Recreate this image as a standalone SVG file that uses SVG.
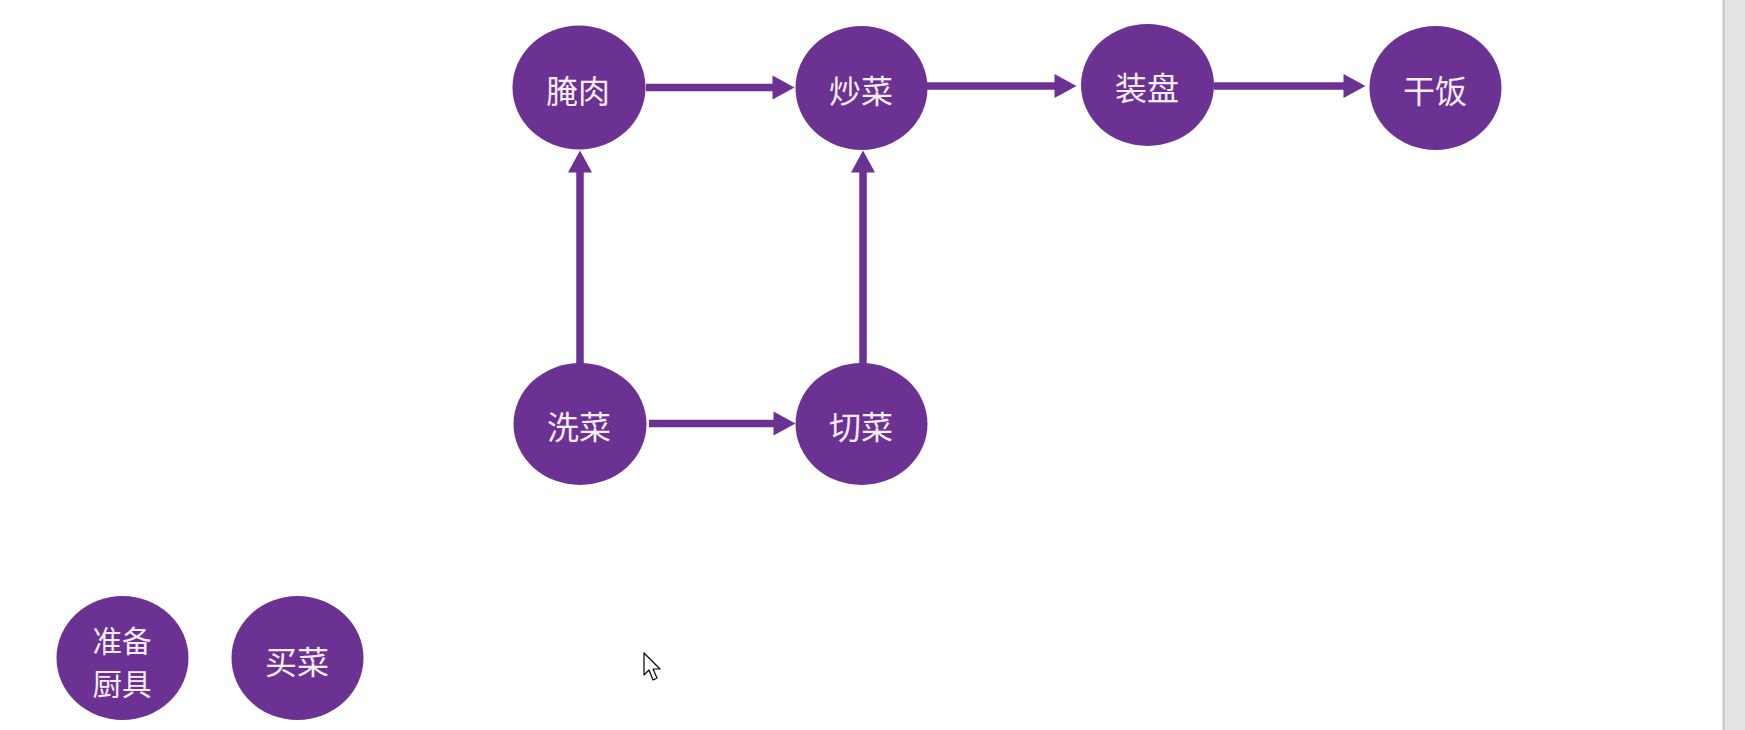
<svg xmlns="http://www.w3.org/2000/svg" width="1745" height="730" viewBox="0 0 1745 730">
<style>
.n ellipse{fill:#6b3193}
.n text{fill:#f7eef7;font-family:"Noto Sans CJK SC","Noto Sans",sans-serif;font-size:32px;text-anchor:middle}
.n text.sm{font-size:29.5px}
.e line{stroke:#6b3193;stroke-width:7.5;marker-end:url(#ah)}
</style>
<defs>
<marker id="ah" markerUnits="userSpaceOnUse" markerWidth="24" markerHeight="26" refX="0.5" refY="12" orient="auto" viewBox="0 0 24 26" overflow="visible">
<path d="M0,0 L22,12 L0,24 z" fill="#6b3193"/>
</marker>
</defs>
<rect width="1745" height="730" fill="#ffffff"/>
<rect x="1722.5" y="0" width="2.5" height="730" fill="#cbcbcb"/>
<rect x="1725" y="0" width="20" height="730" fill="#e3e3e3"/>
<g class="e" id="connectors">
<line x1="646" y1="87.5" x2="773" y2="87.5"/>
<line x1="927" y1="86" x2="1055" y2="86"/>
<line x1="1214" y1="86" x2="1344" y2="86"/>
<line x1="580" y1="364" x2="580" y2="172"/>
<line x1="863" y1="364" x2="863" y2="172"/>
<line x1="649" y1="423.5" x2="774" y2="423.5"/>
</g>
<g class="n" id="n-yanrou"><ellipse cx="579" cy="87.5" rx="66.5" ry="62"/><text x="578" y="103">腌肉</text></g>
<g class="n" id="n-chaocai"><ellipse cx="861.5" cy="88" rx="66" ry="62"/><text x="861" y="103">炒菜</text></g>
<g class="n" id="n-zhuangpan"><ellipse cx="1147.5" cy="85" rx="66.5" ry="61"/><text x="1147" y="100">装盘</text></g>
<g class="n" id="n-ganfan"><ellipse cx="1435.5" cy="88" rx="66" ry="62"/><text x="1435" y="103">干饭</text></g>
<g class="n" id="n-xicai"><ellipse cx="580" cy="424" rx="66.5" ry="61"/><text x="579" y="439">洗菜</text></g>
<g class="n" id="n-qiecai"><ellipse cx="861.5" cy="424" rx="66" ry="61"/><text x="861" y="439">切菜</text></g>
<g class="n" id="n-zhunbei"><ellipse cx="122.5" cy="658" rx="66" ry="62"/><text class="sm" x="122" y="652">准备</text><text class="sm" x="122" y="695">厨具</text></g>
<g class="n" id="n-maicai"><ellipse cx="297.5" cy="658" rx="66" ry="62"/><text x="297" y="674">买菜</text></g>
<path d="M644,653 L644,675 L649,670 L653,680 L657,678 L653,669 L660,669 Z" fill="#ffffff" stroke="#000000" stroke-width="1.2" stroke-linejoin="round"/>
</svg>
